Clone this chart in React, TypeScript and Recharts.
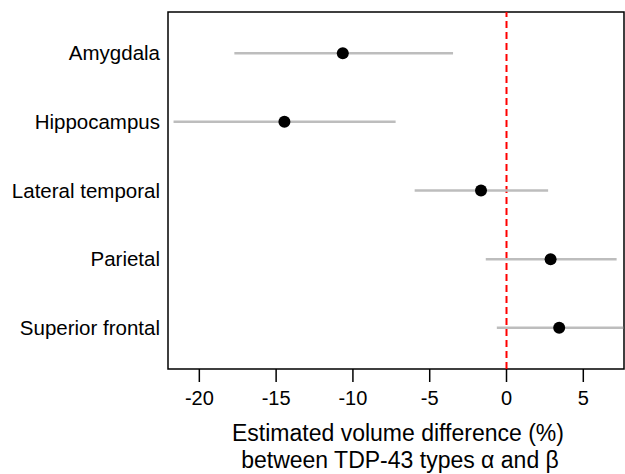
import React from 'react';
import {
  ScatterChart, Scatter, XAxis, YAxis, ErrorBar, ReferenceLine, ReferenceArea,
} from 'recharts';

const regions = ['Amygdala', 'Hippocampus', 'Lateral temporal', 'Parietal', 'Superior frontal'];
const estimates = [-10.66, -14.46, -1.66, 2.87, 3.43];
const lowerCI = [-17.72, -21.68, -5.98, -1.35, -0.63];
const upperCI = [-3.48, -7.22, 2.71, 7.17, 7.6];
const xTicks = [-20, -15, -10, -5, 0, 5];

const FONT = 'Liberation Sans, Arial, sans-serif';
const X_MIN = -22.04;
const X_MAX = 7.65;
const Y_MIN = 0.4;
const Y_MAX = 5.6;

const data = regions.map((name, i) => ({
  name,
  row: i + 1,
  est: estimates[i],
  err: [estimates[i] - lowerCI[i], upperCI[i] - estimates[i]],
}));

const RegionTick = (props: any) => {
  const { x, y, payload } = props;
  return (
    <text x={x} y={y} dy={7} textAnchor="end" fontSize={20.5} fontFamily={FONT} fill="#000">
      {regions[payload.value - 1]}
    </text>
  );
};

const AxisTitle = () => (
  <text textAnchor="middle" fontSize={23} fontFamily={FONT} fill="#000">
    <tspan x={398} y={441}>Estimated volume difference (%)</tspan>
    <tspan x={400} y={468}>between TDP-43 types α and β</tspan>
  </text>
);

export default function App() {
  return (
    <div style={{ position: 'absolute', left: 0, top: 0, background: '#fff' }}>
      <ScatterChart width={625} height={474} margin={{ top: 12, right: 1, bottom: 65, left: 0 }}>
        <XAxis
          type="number"
          dataKey="est"
          domain={[X_MIN, X_MAX]}
          ticks={xTicks}
          allowDataOverflow
          height={40}
          axisLine={false}
          tickLine={{ stroke: '#000', strokeWidth: 1.5 }}
          tickSize={13}
          tick={{ fontSize: 20, fontFamily: FONT, fill: '#000' }}
          tickMargin={9}
          label={<AxisTitle />}
        />
        <YAxis
          type="number"
          dataKey="row"
          domain={[Y_MIN, Y_MAX]}
          ticks={[1, 2, 3, 4, 5]}
          reversed
          width={168}
          axisLine={false}
          tickLine={false}
          tick={<RegionTick />}
        />
        <ReferenceArea
          x1={X_MIN}
          x2={X_MAX}
          y1={Y_MIN}
          y2={Y_MAX}
          fill="none"
          stroke="#000"
          strokeWidth={1.5}
          fillOpacity={0}
          ifOverflow="extendDomain"
        />
        <ReferenceLine x={0} stroke="#ff0000" strokeWidth={2} strokeDasharray="7 4" />
        <Scatter data={data} fill="#000" isAnimationActive={false} shape={(p: any) => (
          <circle cx={p.cx} cy={p.cy} r={6} fill="#000" />
        )}>
          <ErrorBar dataKey="err" direction="x" width={0} stroke="#bdbdbd" strokeWidth={2.5} />
        </Scatter>
      </ScatterChart>
    </div>
  );
}
